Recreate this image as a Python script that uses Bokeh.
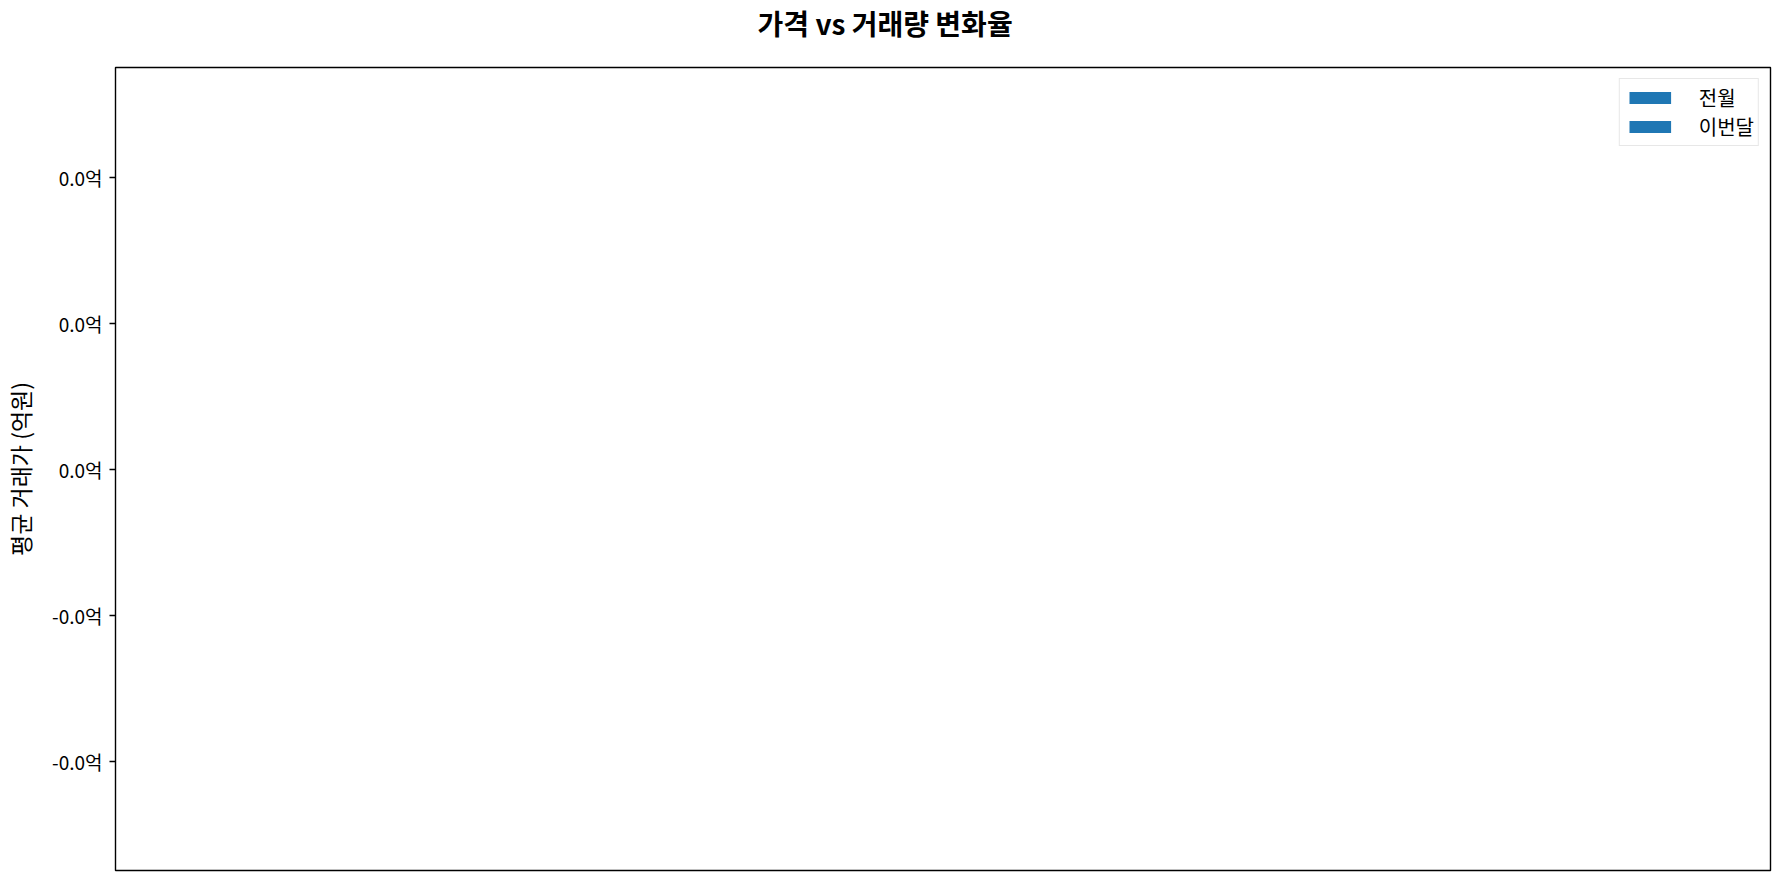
from bokeh.plotting import figure
from bokeh.models import ColumnDataSource, Range1d, FixedTicker, CustomJSTickFormatter, Legend, LegendItem, Title
from bokeh.embed import file_html
from bokeh.resources import INLINE

# ---- data (the chart is empty: no categories / values) ----
categories = []
prev_month = []
this_month = []
y_ticks = [-0.04, -0.02, 0.0, 0.02, 0.04]
y_tick_labels = ["-0.0억", "-0.0억", "0.0억", "0.0억", "0.0억"]
series_names = ["전월", "이번달"]
bar_color = "#1f77b4"

FONT = "Noto Sans CJK KR"

src = ColumnDataSource(dict(
    x=list(range(len(categories))),
    prev=prev_month,
    cur=this_month,
))
# placeholder (NaN, not drawn) so that the legend keys are rendered
key_src = ColumnDataSource(dict(x=[float("nan")], top=[float("nan")]))

p = figure(
    frame_width=1655, frame_height=803,
    min_border_left=111, min_border_right=10, min_border_top=66, min_border_bottom=8,
    x_range=Range1d(-0.055, 0.055), y_range=Range1d(-0.055, 0.055),
    output_backend="svg", toolbar_location=None,
    title="가격 vs 거래량 변화율",
)

# spacing between title and frame
p.add_layout(Title(text=" ", text_font_size="1px", standoff=22), "above")

p.vbar(x="x", top="prev", width=0.35, source=src, fill_color=bar_color, line_color=None)
p.vbar(x="x", top="cur", width=0.35, source=src, fill_color=bar_color, line_color=None)
k1 = p.vbar(x="x", top="top", width=0.35, source=key_src, fill_color=bar_color, line_color=None)
k2 = p.vbar(x="x", top="top", width=0.35, source=key_src, fill_color=bar_color, line_color=None)

legend = Legend(items=[
    LegendItem(label=series_names[0], renderers=[k1]),
    LegendItem(label=series_names[1], renderers=[k2]),
])
p.add_layout(legend, "center")

# title
p.title.text_font = FONT
p.title.text_font_size = "28px"
p.title.text_font_style = "bold"
p.title.text_color = "black"
p.title.align = "left"
p.title.offset = 642
p.title.standoff = 0

# frame
p.outline_line_color = "black"
p.outline_line_width = 1.4
p.background_fill_color = "white"
p.border_fill_color = "white"
p.xgrid.visible = False
p.ygrid.visible = False

# axes
p.xaxis.visible = False
ya = p.yaxis[0]
ya.ticker = FixedTicker(ticks=y_ticks)
ya.formatter = CustomJSTickFormatter(args=dict(labels=y_tick_labels), code="return labels[index];")
ya.axis_line_color = None
ya.major_tick_line_color = "black"
ya.major_tick_line_width = 1.4
ya.major_tick_out = 6
ya.major_tick_in = 0
ya.minor_tick_out = 0
ya.minor_tick_in = 0
ya.major_label_standoff = 7
ya.major_label_text_font = FONT
ya.major_label_text_font_size = "19px"
ya.major_label_text_color = "black"
ya.axis_label = "평균 거래가 (억원)"
ya.axis_label_text_font = FONT
ya.axis_label_text_font_size = "23px"
ya.axis_label_text_font_style = "normal"
ya.axis_label_text_color = "black"
ya.axis_label_standoff = 12

# legend
legend.location = "top_right"
legend.margin = 11
legend.padding = 4
legend.spacing = 0
legend.glyph_width = 52
legend.glyph_height = 15
legend.label_height = 27
legend.label_standoff = 23
legend.label_text_font = FONT
legend.label_text_font_size = "20px"
legend.label_text_color = "black"
legend.border_line_color = "#d0d0d0"
legend.border_line_width = 1
legend.background_fill_alpha = 0.8

open("out.html", "w").write(file_html(p, INLINE))
